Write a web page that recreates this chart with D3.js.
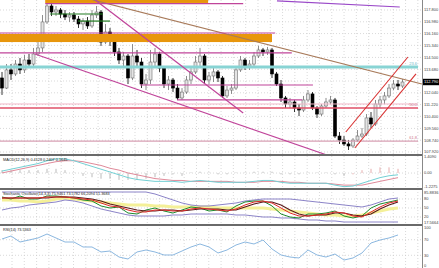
<!DOCTYPE html>
<html><head><meta charset="utf-8">
<script src="https://cdn.jsdelivr.net/npm/d3@7"></script>
<style>body{margin:0;background:#fff;overflow:hidden}svg{display:block}text{font-family:"Liberation Sans",Arial,sans-serif}</style>
</head><body><svg id="c" width="439" height="268"></svg>
<script>
// ---------- DATA ----------
const open = [113.07,112.37,113.63,113.35,114.04,113.63,114.32,114.04,114.74,115.16,
116.97,118.08,117.66,117.80,117.52,117.31,117.45,117.17,116.83,117.03,
116.69,117.45,117.66,115.57,116.27,115.71,114.88,114.32,114.60,113.07,
114.60,114.18,112.65,112.93,114.18,114.74,113.76,112.65,112.93,112.37,
111.68,112.09,112.93,113.49,114.18,114.60,112.93,113.21,113.49,113.07,
111.82,112.23,112.37,113.63,114.32,113.90,114.04,114.60,115.02,114.88,
115.02,113.35,112.65,111.68,111.26,111.40,110.98,110.84,111.54,111.96,
110.98,110.56,111.12,111.40,111.54,109.03,108.75,108.48,108.34,108.75,
109.03,109.17,110.29,109.87,111.26,111.54,111.82,112.37,112.65,112.51];
const close = [112.37,113.63,113.35,114.04,113.63,114.32,114.04,114.74,115.16,116.97,
118.08,117.66,117.80,117.52,117.31,117.45,117.17,116.83,117.03,116.69,
117.45,117.66,115.57,116.27,115.71,114.88,114.32,114.60,113.07,114.60,
114.18,112.65,112.93,114.18,114.74,113.76,112.65,112.93,112.37,111.68,
112.09,112.93,113.49,114.18,114.60,112.93,113.21,113.49,113.07,111.82,
112.23,112.37,113.63,114.32,113.90,114.04,114.60,115.02,114.88,115.02,
113.35,112.65,111.68,111.26,111.40,110.98,110.84,111.54,111.96,110.98,
110.56,111.12,111.40,111.54,109.03,108.75,108.48,108.34,108.75,109.03,
109.17,110.29,109.87,111.26,111.54,111.82,112.37,112.65,112.51,112.79];
const high = [113.49,114.04,114.04,114.32,114.46,114.67,114.74,115.16,115.57,117.45,
118.50,118.36,118.08,117.94,117.80,117.66,117.66,117.38,117.24,117.31,
117.80,118.08,117.80,116.83,116.55,115.85,115.16,114.88,114.74,115.43,
115.02,114.46,113.35,115.02,115.16,114.88,113.90,113.21,113.07,112.65,
112.37,113.21,113.76,114.60,115.16,114.74,113.49,113.76,113.63,113.21,
112.51,112.65,113.90,114.60,114.46,114.32,114.88,115.30,115.16,115.23,
115.16,113.49,112.93,111.82,111.68,111.54,111.26,111.82,112.23,112.09,
111.12,111.26,111.68,111.82,111.68,109.31,109.03,108.75,108.89,109.45,
109.59,110.56,110.70,111.54,111.82,112.09,112.65,112.93,112.93,113.00];
const low = [111.89,112.30,112.93,113.21,113.35,113.42,113.76,113.90,114.60,114.88,
116.83,117.38,117.38,117.24,117.10,116.97,116.97,116.55,116.41,116.48,
116.55,117.24,115.30,115.43,115.30,114.60,114.04,113.90,112.65,112.93,
113.90,112.37,112.23,112.65,113.90,113.49,112.37,112.23,112.09,111.54,
111.54,111.96,112.65,113.35,113.90,112.65,112.65,112.79,112.79,111.68,
111.68,111.96,112.23,113.49,113.63,113.63,113.90,114.46,114.60,114.67,
113.07,112.51,111.40,110.98,110.98,110.70,110.42,110.70,111.40,110.84,
110.29,110.42,110.98,111.26,108.89,108.48,108.34,108.06,108.20,108.62,
108.89,109.03,109.59,109.73,110.98,111.26,111.68,112.23,112.23,112.37];
const lastPrice = "112.790";

const priceTicks = [117.800,116.980,116.160,115.340,114.500,113.680,112.860,112.040,111.220,110.400,109.560,108.740,107.920];

// indicator sample positions (bar index)
const indIdx = [0,2,4,6,8,10,12,14,16,18,20,22,24,26,28,30,32,34,36,38,40,42,44,46,48,50,52,54,56,58,60,62,64,66,68,70,72,74,76,78,80,82,84,86,88];
const macdMain = [0.173,0.338,0.503,0.667,0.832,1.079,1.244,1.244,1.079,0.832,0.585,0.338,0.091,-0.156,-0.404,-0.568,-0.651,-0.733,-0.733,-0.733,-0.815,-0.733,-0.651,-0.733,-0.815,-0.815,-0.815,-0.815,-0.733,-0.651,-0.651,-0.815,-0.898,-0.898,-0.898,-0.898,-0.898,-1.063,-1.200,-1.145,-0.898,-0.651,-0.404,-0.239,-0.156];
const macdSignal = [0.008,0.173,0.338,0.503,0.667,0.832,0.997,1.079,1.079,0.997,0.832,0.667,0.420,0.256,0.008,-0.156,-0.321,-0.486,-0.568,-0.651,-0.651,-0.733,-0.733,-0.733,-0.733,-0.733,-0.815,-0.815,-0.815,-0.733,-0.733,-0.733,-0.815,-0.815,-0.898,-0.898,-0.898,-0.980,-1.063,-1.063,-1.063,-0.898,-0.733,-0.568,-0.404];
const macdHist = [0.25,0.25,0.25,0.25,0.25,0.37,0.37,0.25,0.05,-0.25,-0.37,-0.5,-0.5,-0.6,-0.6,-0.6,-0.5,-0.37,-0.25,-0.12,-0.25,0.05,0.12,0.05,-0.12,-0.12,0.05,0.05,0.12,0.12,0.12,-0.12,-0.12,-0.12,0.05,0.05,0.05,-0.12,-0.25,-0.12,0.25,0.37,0.5,0.5,0.37];
const macdTicks = [1.4090, 0.00, -1.2275];

const stochK = [86.7,80,90,80,80,90,90,86.7,83.3,76.7,73.3,56.7,50,53.3,33.3,30,43.3,50,40,33.3,43.3,53.3,50,40,43.3,36.7,56.7,70,73.3,73.3,56.7,30,20,16.7,30,30,33.3,40,23.3,16.7,23.3,50,63.3,70,76.7];
const stochD = [83.3,83.3,83.3,83.3,83.3,86.7,86.7,86.7,83.3,80,76.7,66.7,56.7,53.3,43.3,36.7,36.7,43.3,43.3,40,40,46.7,50,46.7,43.3,40,46.7,60,70,73.3,66.7,50,33.3,23.3,23.3,26.7,30,36.7,33.3,23.3,20,36.7,53.3,66.7,73.3];
const stochS = [83.3,83.3,83.3,83.3,83.3,83.3,86.7,86.7,86.7,83.3,80,73.3,63.3,56.7,50,43.3,40,40,43.3,43.3,40,43.3,46.7,46.7,46.7,43.3,43.3,53.3,63.3,70,70,60,43.3,30,23.3,26.7,26.7,33.3,33.3,26.7,23.3,30,46.7,60,70];
const stochMA = [76.7,76.7,73.3,73.3,70,73.3,80,83.3,80,76.7,73.3,70,66.7,63.3,60,60,60,56.7,56.7,53.3,53.3,53.3,53.3,53.3,50,50,50,50,50,50,46.7,43.3,40,36.7,33.3,30,26.7,26.7,23.3,23.3,26.7,33.3,40,46.7,50];
const stochUp = [103.3,103.3,103.3,103.3,103.3,103.3,103.3,103.3,103.3,103.3,103.3,103.3,103.3,103.3,103.3,103.3,103.3,96.7,86.7,76.7,66.7,60,56.7,56.7,60,63.3,66.7,73.3,76.7,80,80,80,80,76.7,73.3,70,66.7,63.3,60,56.7,53.3,60,70,80,83.3];
const stochLo = [43.3,50,53.3,60,63.3,66.7,70,76.7,73.3,66.7,56.7,46.7,40,33.3,26.7,23.3,23.3,23.3,23.3,26.7,26.7,30,30,30,30,30,26.7,26.7,23.3,20,20,16.7,16.7,13.3,10,10,6.7,6.7,3.3,3.3,3.3,3.3,3.3,3.3,3.3];
const stochMax = "85.8836", stochMin = "17.5664";
const stochLevels = [80, 50, 20];

const rsi = [71.8,79.5,64.1,69.2,74.4,84.6,74.4,64.1,64.1,51.3,51.3,38.5,41.0,25.6,20.5,38.5,43.6,38.5,30.8,30.8,41.0,51.3,59.0,51.3,35.9,43.6,56.4,64.1,59.0,69.2,46.2,30.8,25.6,23.1,43.6,30.8,25.6,33.3,17.9,23.1,35.9,61.5,69.2,74.4,82.1];
const rsiTicks = [100, 70, 30, 0];
const rsiLevels = [70, 30];

// chart objects: [bar1, price1, bar2, price2]
const trendBrown = [[20.2,118.50,93.3,112.65]];
const trendMagenta = [[20.7,118.50,53.6,110.63],[7.3,114.74,72.2,107.71],[9.6,118.25,53.6,118.25],[-0.5,116.20,60.7,116.20],[-0.5,114.81,64.4,114.81],[30.7,112.58,69.1,112.58],[38.9,111.54,66.7,111.54]];
const trendPurple = [[61.1,118.43,88.4,118.01]];
const trendGreen = [[10.7,117.52,22.4,117.52],[16.9,117.03,24.0,117.03]];
const channelRed = [[76.4,109.31,90.2,114.53],[78.4,108.20,92.0,113.35]];
const orangeBands = [[9.6,118.50,45.8,118.29],[-0.5,116.13,60.0,115.57]];
const fibLevels = [113.83, 111.26, 110.98, 108.68];
const fibNames = ["23.6", "", "50.0", "61.8"];
const fibColors = ["#88d4d4", "#f2b8c8", "#e05068", "#d8a0b4"];
const fibWidths = [3, 1, 1.3, 1.2];

// ---------- DRAW ----------
const svg = d3.select('#c');
const PR = 422, FS = 4;
const x = d3.scaleLinear().domain([0, 89]).range([2, 402.5]);
const yP = d3.scaleLinear().domain([107.92, 117.80]).range([152, 10]);
const yM = d3.scaleLinear().domain([-1.2275, 1.409]).range([187, 157]);
const yS = d3.scaleLinear().domain([20, 80]).range([217, 199]);
const yR = d3.scaleLinear().domain([0, 100]).range([267, 228]);

svg.append('rect').attr('width', 439).attr('height', 268).attr('fill', '#fff');
const defs = svg.append('defs');
[['cm',0,0,155],['cmac',0,156,33],['cst',0,190,35],['crs',0,226,42]].forEach(([id,x0,y0,h])=>{
  defs.append('clipPath').attr('id', id).append('rect').attr('x', x0).attr('y', y0).attr('width', PR).attr('height', h);
});

// vertical grid
const vGrid = d3.range(x.invert(12), 93, 2.733);
svg.append('g').selectAll('line').data(vGrid).join('line')
  .attr('x1', d => x(d)).attr('x2', d => x(d)).attr('y1', 0).attr('y2', 268)
  .attr('stroke', '#c8c8c8').attr('stroke-width', 0.7).attr('stroke-dasharray', '1,2');
// horizontal grid
const hg = svg.append('g').attr('stroke', '#c8c8c8').attr('stroke-width', 0.7).attr('stroke-dasharray', '1,2');
priceTicks.forEach(t => hg.append('line').attr('x1', 0).attr('x2', PR).attr('y1', yP(t)).attr('y2', yP(t)));
stochLevels.forEach(t => hg.append('line').attr('x1', 0).attr('x2', PR).attr('y1', yS(t)).attr('y2', yS(t)));
rsiLevels.forEach(t => hg.append('line').attr('x1', 0).attr('x2', PR).attr('y1', yR(t)).attr('y2', yR(t)));
hg.append('line').attr('x1', 0).attr('x2', PR).attr('y1', yM(0)).attr('y2', yM(0));

// candles
const main = svg.append('g').attr('clip-path', 'url(#cm)');
const bars = d3.range(open.length);
main.append('g').selectAll('line').data(bars).join('line')
  .attr('x1', i => x(i)).attr('x2', i => x(i))
  .attr('y1', i => yP(high[i])).attr('y2', i => yP(low[i]))
  .attr('stroke', i => close[i] >= open[i] ? '#707070' : '#000').attr('stroke-width', 0.8);
main.append('g').selectAll('rect').data(bars).join('rect')
  .attr('x', i => x(i) - 1.5).attr('width', 3)
  .attr('y', i => yP(Math.max(open[i], close[i])))
  .attr('height', i => Math.max(0.8, Math.abs(yP(open[i]) - yP(close[i]))))
  .attr('fill', i => close[i] >= open[i] ? '#e4e4e4' : '#000')
  .attr('stroke', i => close[i] >= open[i] ? '#707070' : '#000').attr('stroke-width', 0.6);

// objects
fibLevels.forEach((p, k) => {
  main.append('line').attr('x1', 0).attr('x2', 418).attr('y1', yP(p)).attr('y2', yP(p))
    .attr('stroke', fibColors[k]).attr('stroke-width', fibWidths[k]);
  if (fibNames[k]) main.append('text').attr('x', 417).attr('y', yP(p) - 2).attr('text-anchor', 'end')
    .attr('font-size', 4).attr('fill', k === 0 ? '#70b8c8' : '#d07890').text(fibNames[k]);
});
orangeBands.forEach(b => main.append('rect')
  .attr('x', x(b[0])).attr('width', x(b[2]) - x(b[0]))
  .attr('y', yP(b[1])).attr('height', yP(b[3]) - yP(b[1])).attr('fill', '#e8960c'));
const seg = (arr, color, w) => arr.forEach(s => main.append('line')
  .attr('x1', x(s[0])).attr('y1', yP(s[1])).attr('x2', x(s[2])).attr('y2', yP(s[3]))
  .attr('stroke', color).attr('stroke-width', w));
seg(trendBrown, '#a87a5a', 1.2);
seg(trendMagenta, '#c0449a', 1.2);
seg(trendPurple, '#9a48c8', 1.2);
seg(trendGreen, '#1e7a1e', 1.2);
seg(channelRed, '#d83030', 1.1);

// MACD
const gm = svg.append('g').attr('clip-path', 'url(#cmac)');
gm.append('g').selectAll('line').data(indIdx).join('line')
  .attr('x1', d => x(d)).attr('x2', d => x(d))
  .attr('y1', yM(0)).attr('y2', (d, k) => yM(macdHist[k]))
  .attr('stroke', (d, k) => k > 38 ? '#e09898' : '#a8a8a8').attr('stroke-width', 0.8);
const lineOf = (ys, vals) => d3.line().x((d, k) => x(indIdx[k])).y((d, k) => ys(vals[k]))(indIdx);
gm.append('path').attr('d', lineOf(yM, macdSignal)).attr('fill', 'none').attr('stroke', '#e08a9a').attr('stroke-width', 1);
gm.append('path').attr('d', lineOf(yM, macdMain)).attr('fill', 'none').attr('stroke', '#74d0d4').attr('stroke-width', 1);

// Stochastic
const gs = svg.append('g').attr('clip-path', 'url(#cst)');
gs.append('path').attr('d', lineOf(yS, stochMA)).attr('fill', 'none').attr('stroke', '#f4f098').attr('stroke-width', 3);
gs.append('path').attr('d', lineOf(yS, stochUp)).attr('fill', 'none').attr('stroke', '#8c84c8').attr('stroke-width', 1);
gs.append('path').attr('d', lineOf(yS, stochLo)).attr('fill', 'none').attr('stroke', '#8c84c8').attr('stroke-width', 1);
gs.append('path').attr('d', lineOf(yS, stochK)).attr('fill', 'none').attr('stroke', '#1e8a2e').attr('stroke-width', 1);
gs.append('path').attr('d', lineOf(yS, stochS)).attr('fill', 'none').attr('stroke', '#5a1a1a').attr('stroke-width', 1.2);
gs.append('path').attr('d', lineOf(yS, stochD)).attr('fill', 'none').attr('stroke', '#e02828').attr('stroke-width', 1);

// RSI
const gr = svg.append('g').attr('clip-path', 'url(#crs)');
gr.append('path').attr('d', lineOf(yR, rsi)).attr('fill', 'none').attr('stroke', '#8cb8e0').attr('stroke-width', 1);

// panel titles
const title = (t, y) => svg.append('text').attr('x', 3).attr('y', y).attr('font-size', 3.8).attr('fill', '#222').text(t);
title('MACD(12,26,9) 0.4128 0.2407 0.1645', 161);
title('Stochastic Oscillator(14,3,3) 75.9461 73.5782 66.2094 51.3683', 195);
title('RSI(14) 73.5363', 231);

// separators and right axis
[155, 189, 225].forEach(y => svg.append('line').attr('x1', 0).attr('x2', PR).attr('y1', y).attr('y2', y)
  .attr('stroke', '#6a6a6a').attr('stroke-width', 2));
svg.append('line').attr('x1', PR + 0.5).attr('x2', PR + 0.5).attr('y1', 0).attr('y2', 268).attr('stroke', '#888').attr('stroke-width', 1);

const lab = (t, y) => svg.append('text').attr('x', 424).attr('y', y).attr('dy', '0.35em')
  .attr('font-size', FS).attr('fill', '#444').text(t);
priceTicks.forEach(t => lab(t.toFixed(3), yP(t)));
macdTicks.forEach(t => lab(t === 0 ? '0.00' : t.toFixed(4), yM(t)));
lab(stochMax, 192.3);
stochLevels.forEach(t => lab(String(t), yS(t)));
lab(stochMin, 222.3);
rsiTicks.forEach(t => lab(String(t), Math.min(265.5, yR(t))));

// current price box
const lp = close[close.length - 1];
svg.append('rect').attr('x', 423).attr('y', yP(lp) - 3.2).attr('width', 16).attr('height', 6.4).attr('fill', '#000');
svg.append('text').attr('x', 424).attr('y', yP(lp)).attr('dy', '0.35em').attr('font-size', FS).attr('fill', '#fff').text(lastPrice);
</script></body></html>
